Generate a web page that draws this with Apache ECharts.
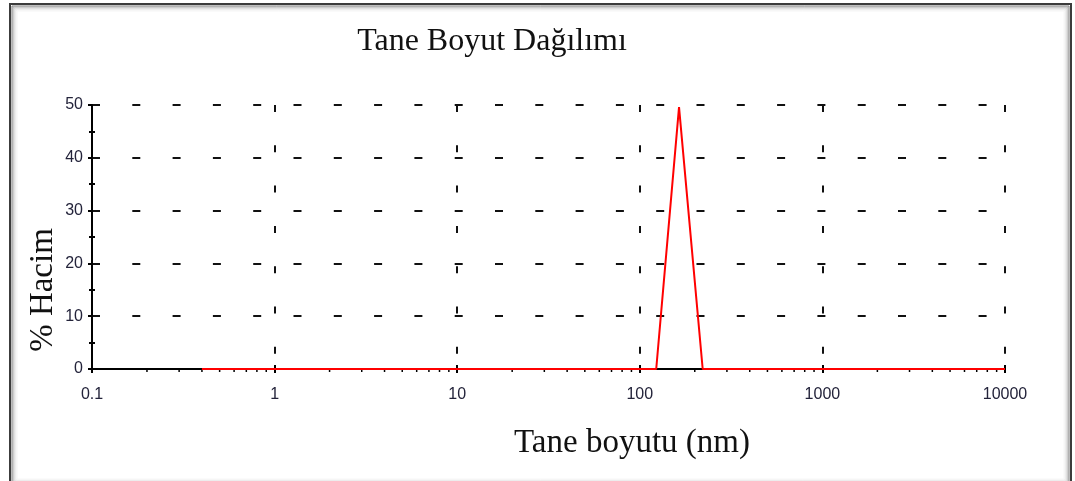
<!DOCTYPE html>
<html>
<head>
<meta charset="utf-8">
<title>Tane Boyut Dağılımı</title>
<script src="https://cdn.jsdelivr.net/npm/echarts@6/dist/echarts.min.js"></script>
<style>
  html, body { margin: 0; padding: 0; background: #ffffff; }
  #chart { width: 1075px; height: 481px; }
</style>
</head>
<body>
<div id="chart"></div>
<script>
// Particle size (nm) and volume share (%) of the distribution curve
const sizes = [0.4, 123, 164, 221, 10000];
const volume = [0, 0, 49.6, 0, 0];

// Axis texts
const titleText = 'Tane Boyut Dağılımı';
const xAxisTitle = 'Tane boyutu (nm)';
const yAxisTitle = '% Hacim';
const xTickLabels = ['0.1', '1', '10', '100', '1000', '10000'];

// Minor tick positions of the logarithmic axis (2..9 within each decade)
const decades = [0.1, 1, 10, 100, 1000];
const minorSteps = [2, 3, 4, 5, 6, 7, 8, 9];
const minorTickValues = [];
decades.forEach(d => minorSteps.forEach(s => minorTickValues.push(+(d * s).toPrecision(6))));

const chart = echarts.init(document.getElementById('chart'), null, { renderer: 'canvas' });

const labelFont = { fontFamily: 'Liberation Sans, Arial, sans-serif', fontSize: 16, color: '#23233a' };
const serif = 'Liberation Serif, Times New Roman, serif';

// soft inner-shadow frame around the whole figure
const frame = [
  { inset: 0, color: '#3c3c3c', w: 2 },
  { inset: 2, color: '#7a7a7a', w: 1 },
  { inset: 3, color: '#a8a8a8', w: 1 },
  { inset: 4, color: '#c8c8c8', w: 1 },
  { inset: 5, color: '#dedede', w: 1 },
  { inset: 6, color: '#ececec', w: 1 },
  { inset: 7, color: '#f6f6f6', w: 1 }
].map(f => ({
  type: 'rect',
  silent: true,
  shape: { x: 10 + f.inset, y: 4 + f.inset, width: 1061 - 2 * f.inset, height: 482 - 2 * f.inset },
  style: { fill: null, stroke: f.color, lineWidth: f.w }
}));

const option = {
  animation: false,
  backgroundColor: '#ffffff',
  grid: { left: 92, right: 70, top: 105, bottom: 112, containLabel: false },
  graphic: frame.concat([
    {
      type: 'text', silent: true, x: 492, y: 42,
      style: { text: titleText, font: '32px ' + serif, fill: '#111', textAlign: 'center', textVerticalAlign: 'middle' }
    },
    {
      type: 'text', silent: true, x: 632, y: 443,
      style: { text: xAxisTitle, font: '33px ' + serif, fill: '#111', textAlign: 'center', textVerticalAlign: 'middle' }
    },
    {
      type: 'text', silent: true, x: 43, y: 290, rotation: Math.PI / 2,
      style: { text: yAxisTitle, font: '33px ' + serif, fill: '#111', textAlign: 'center', textVerticalAlign: 'middle' }
    }
  ]),
  xAxis: [
    {
      type: 'log', logBase: 10, min: 0.1, max: 10000,
      axisLine: { show: true, onZero: false, lineStyle: { color: '#000', width: 2 } },
      axisTick: { show: true, length: 4, lineStyle: { color: '#000', width: 2 } },
      axisLabel: Object.assign({ margin: 18, formatter: (v, i) => xTickLabels[i] !== undefined ? xTickLabels[i] : String(v) }, labelFont),
      splitLine: { show: true, lineStyle: { color: '#111', width: 2, type: [7, 33.3], dashOffset: 0 } }
    },
    {
      type: 'log', logBase: 10, min: 0.1, max: 10000, position: 'bottom',
      axisLine: { show: false },
      axisTick: { show: true, inside: true, length: 4, lineStyle: { color: '#000', width: 2 } },
      axisLabel: { show: false },
      splitLine: { show: false }
    }
  ],
  yAxis: [
    {
      type: 'value', min: 0, max: 50, interval: 10,
      axisLine: { show: true, onZero: false, lineStyle: { color: '#000', width: 2 } },
      axisTick: { show: true, length: 4, lineStyle: { color: '#000', width: 2 } },
      minorTick: { show: true, splitNumber: 2, length: 3, lineStyle: { color: '#000', width: 2 } },
      axisLabel: Object.assign({ margin: 9 }, labelFont),
      splitLine: { show: true, lineStyle: { color: '#111', width: 2, type: [8, 32.3], dashOffset: 0 } }
    },
    {
      type: 'value', min: 0, max: 50, interval: 10, position: 'left',
      axisLine: { show: false },
      axisTick: { show: false, inside: true },
      minorTick: { show: true, splitNumber: 2, length: 3, lineStyle: { color: '#000', width: 2 } },
      axisLabel: { show: false },
      splitLine: { show: false }
    }
  ],
  series: [
    {
      type: 'custom',
      name: 'minor ticks',
      xAxisIndex: 0, yAxisIndex: 0,
      clip: false, silent: true, z: 1,
      data: minorTickValues.map(v => [v, 0]),
      encode: { x: 0, y: 1 },
      renderItem: (params, api) => {
        const p = api.coord([api.value(0), 0]);
        return {
          type: 'line',
          shape: { x1: p[0], y1: p[1], x2: p[0], y2: p[1] + 3 },
          style: { stroke: '#000', lineWidth: 1.5 }
        };
      }
    },
    {
      type: 'line',
      name: 'Hacim',
      xAxisIndex: 0, yAxisIndex: 0,
      data: sizes.map((s, i) => [s, volume[i]]),
      showSymbol: false, symbol: 'none',
      clip: false, z: 3,
      lineStyle: { color: '#ff0000', width: 2 }
    }
  ]
};

chart.setOption(option);
</script>
</body>
</html>
